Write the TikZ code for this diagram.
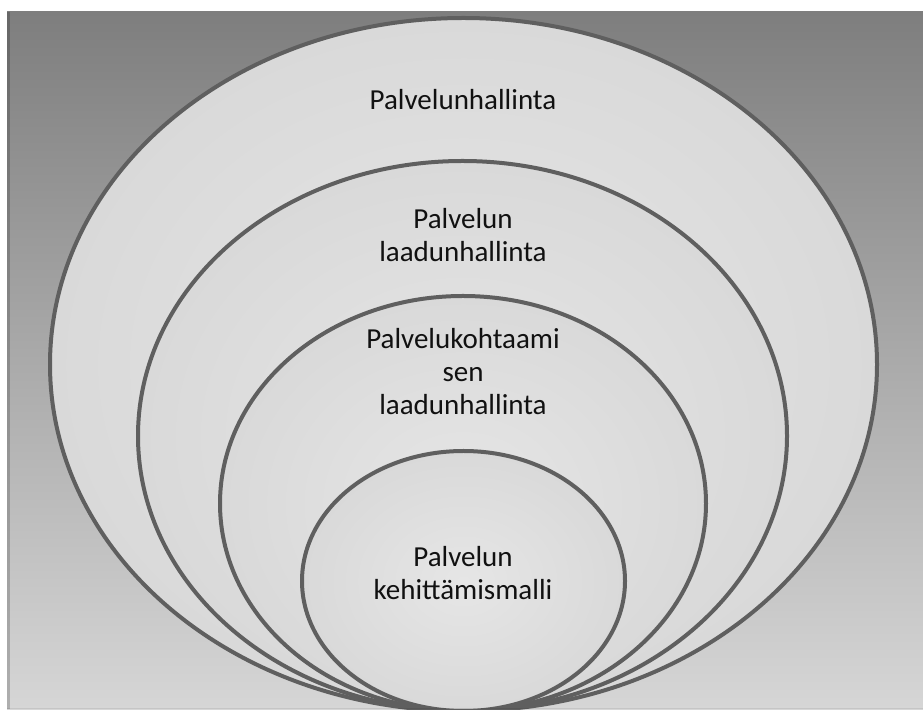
\documentclass[tikz,border=0pt]{standalone}
\usepackage{fontspec}
\setmainfont{Carlito}
\usetikzlibrary{shapes.geometric}
\definecolor{ringc}{HTML}{5F5F5F}
\definecolor{bgtop}{HTML}{7E7E7E}
\definecolor{bgbot}{HTML}{D6D6D6}
\definecolor{fillin}{HTML}{E6E6E6}
\definecolor{fillout}{HTML}{D9D9D9}
\definecolor{txtc}{HTML}{111111}
\begin{document}
\begin{tikzpicture}[x=1pt,y=1pt,
  ring/.style={ellipse, draw=ringc, line width=4pt, inner sep=0pt, outer sep=0pt,
    inner color=fillin, outer color=fillout},
  lbl/.style={font=\fontsize{29}{33}\selectfont, align=center, text=txtc, inner sep=0pt}]
\useasboundingbox (0,0) rectangle (923,709);
\fill[white] (0,0) rectangle (923,709);
\shade[top color=bgtop, bottom color=bgbot] (7,0) rectangle (923,697);
\fill[black, opacity=0.18] (7,0) rectangle (10,697);
\begin{scope}
\clip (7,0) rectangle (923,697);
\node[ring, minimum width=827pt, minimum height=693pt] (e1) at (463.5,344.5) {};
\node[ring, minimum width=649pt, minimum height=550pt] (e2) at (462.5,273) {};
\node[ring, minimum width=486pt, minimum height=415pt] (e3) at (463,205.5) {};
\node[ring, minimum width=323pt, minimum height=260pt] (e4) at (463.5,128) {};
\end{scope}
\fill[black, opacity=0.08] (7,0) rectangle (923,1.5);
\node[lbl] (t1) at (463,609) {Palvelunhallinta};
\node[lbl] (t2) at (463,473.5) {Palvelun\\laadunhallinta};
\node[lbl] (t3) at (463,337.5) {Palvelukohtaami\\sen\\laadunhallinta};
\node[lbl] (t4) at (463,135.5) {Palvelun\\kehittämismalli};
\end{tikzpicture}
\end{document}
